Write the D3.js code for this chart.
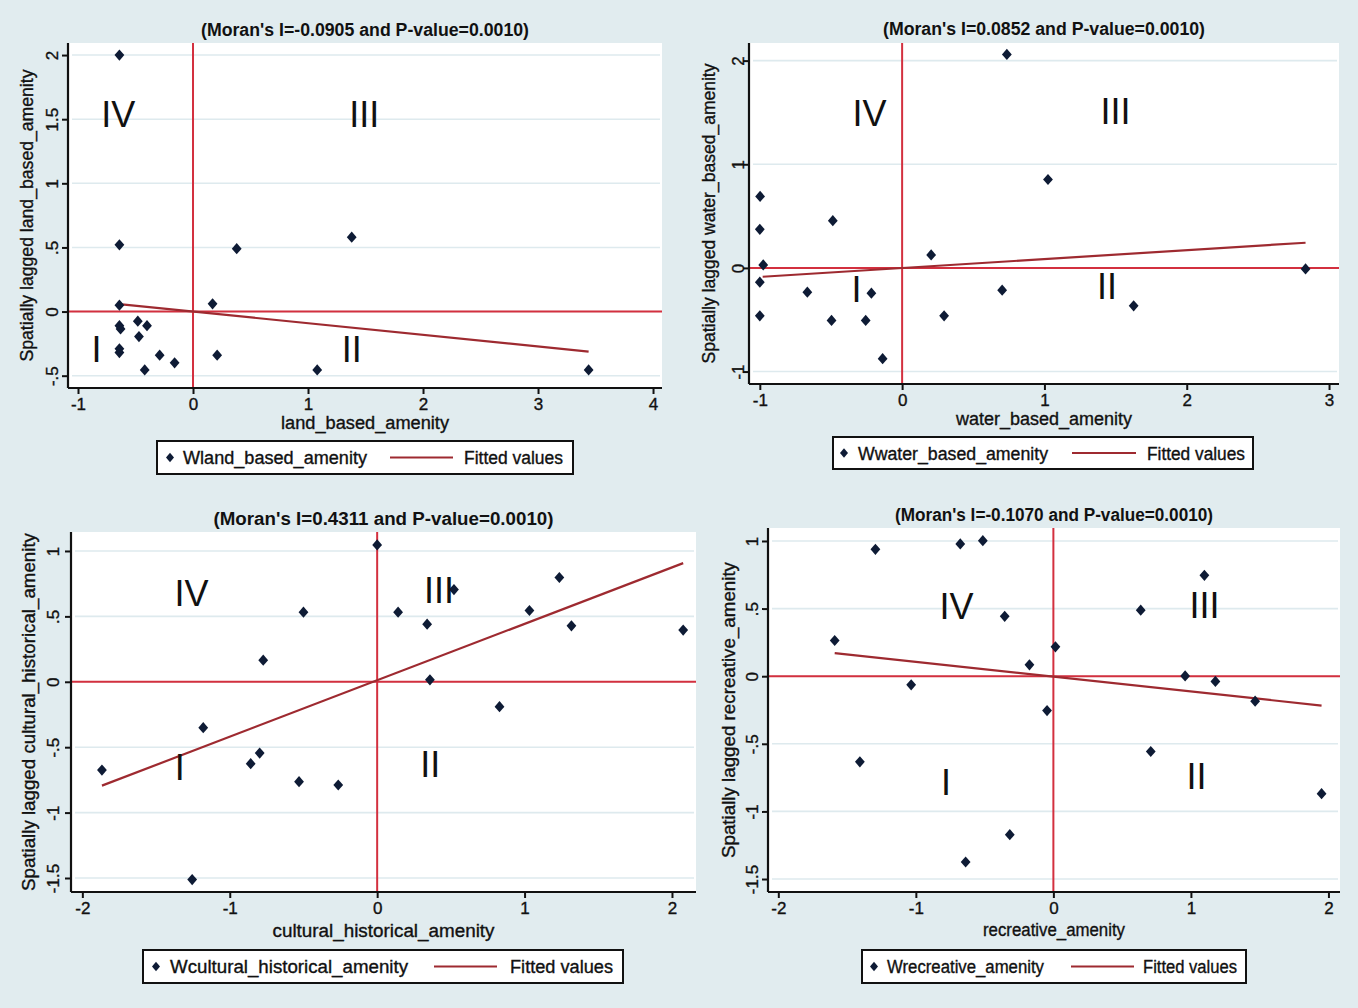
<!DOCTYPE html>
<html>
<head>
<meta charset="utf-8">
<script src="https://cdn.jsdelivr.net/npm/d3@7"></script>
<style>
  html, body { margin: 0; padding: 0; background: #e1ecef; }
  svg { display: block; }
  text { font-family: "Liberation Sans", Arial, sans-serif; fill: #111; }
  .heavy { stroke: #111; stroke-width: 0.35px; }
</style>
</head>
<body>
<svg id="chart" width="1358" height="1008"></svg>
<script>
// ---------- DATA ----------
// Panel 1: land-based amenity
const landX = [-0.64, -0.64, 0.38, 1.38, -0.64, 0.17, -0.64, -0.63, -0.48, -0.40, -0.47, -0.64, -0.64, -0.29, 0.21, -0.16, -0.42, 1.08, 3.44];
const landY = [2.00, 0.52, 0.49, 0.58, 0.05, 0.06, -0.11, -0.135, -0.075, -0.11, -0.195, -0.29, -0.32, -0.34, -0.34, -0.40, -0.455, -0.455, -0.455];
const landFitX = [-0.64, 3.44];
const landFitY = [0.058, -0.312];
const landYTicks = [-0.5, 0, 0.5, 1, 1.5, 2];
const landXTicks = [-1, 0, 1, 2, 3, 4];

// Panel 2: water-based amenity
const waterX = [0.736, 1.025, -0.998, -0.487, -1.0, -0.976, 0.204, -1.0, -0.666, -0.216, 0.703, -1.0, -0.496, -0.256, 0.295, 1.627, -0.137, 2.835];
const waterY = [2.06, 0.853, 0.69, 0.456, 0.372, 0.029, 0.125, -0.138, -0.234, -0.244, -0.215, -0.462, -0.507, -0.507, -0.462, -0.366, -0.876, -0.01];
const waterFitX = [-0.98, 2.835];
const waterFitY = [-0.085, 0.243];
const waterYTicks = [-1, 0, 1, 2];
const waterXTicks = [-1, 0, 1, 2, 3];

// Panel 3: cultural-historical amenity
const cultX = [0.0, 1.236, 0.521, -0.5, 0.142, 1.033, 0.339, 1.318, 2.076, -0.773, 0.358, 0.83, -1.18, -0.797, -0.858, -1.867, -0.53, -0.264, -1.255];
const cultY = [1.046, 0.797, 0.705, 0.532, 0.532, 0.545, 0.44, 0.428, 0.395, 0.165, 0.015, -0.19, -0.351, -0.545, -0.626, -0.675, -0.764, -0.789, -1.512];
const cultFitX = [-1.867, 2.076];
const cultFitY = [-0.794, 0.907];
const cultYTicks = [-1.5, -1, -0.5, 0, 0.5, 1];
const cultXTicks = [-2, -1, 0, 1, 2];

// Panel 4: recreative amenity
const recX = [-0.513, -0.677, -1.294, 1.098, 0.635, -0.354, -1.59, 0.015, -0.174, 0.958, 1.178, -1.034, 1.467, -0.046, 0.708, -1.407, 1.95, -0.317, -0.638];
const recY = [1.002, 0.978, 0.938, 0.746, 0.488, 0.443, 0.264, 0.217, 0.084, 0.002, -0.039, -0.064, -0.185, -0.254, -0.557, -0.633, -0.869, -1.172, -1.374];
const recFitX = [-1.59, 1.95];
const recFitY = [0.17, -0.217];
const recYTicks = [-1.5, -1, -0.5, 0, 0.5, 1];
const recXTicks = [-2, -1, 0, 1, 2];

const quadNames = ["IV", "III", "I", "II"];
const titles = [
  "(Moran's I=-0.0905 and P-value=0.0010)",
  "(Moran's I=0.0852 and P-value=0.0010)",
  "(Moran's I=0.4311 and P-value=0.0010)",
  "(Moran's I=-0.1070 and P-value=0.0010)"
];
const xTitles = ["land_based_amenity", "water_based_amenity", "cultural_historical_amenity", "recreative_amenity"];
const yTitles = ["Spatially lagged land_based_amenity", "Spatially lagged water_based_amenity",
                 "Spatially lagged cultural_historical_amenity", "Spatially lagged recreative_amenity"];
const legendNames = ["Wland_based_amenity", "Wwater_based_amenity", "Wcultural_historical_amenity", "Wrecreative_amenity"];
const fitLabel = "Fitted values";

// ---------- LAYOUT ----------
const panels = [
  { xs: landX, ys: landY, fx: landFitX, fy: landFitY, yt: landYTicks, xt: landXTicks,
    box: {l: 68, r: 662, t: 43, b: 388}, xd: [-1.087, 4.078], yd: [-0.596, 2.094],
    quad: [[-0.65, 1.54], [1.49, 1.54], [-0.84, -0.29], [1.38, -0.29]],
    titleY: 36, titleW: 328, xTitleY: 429, xTitleW: 168, yTitleX: 33, yTitleW: 292, yTickX: 53,
    leg: {l: 157, r: 573, t: 441, b: 474, dx: 170, tx: 183, tw: 184, l1: 390, l2: 453, fx: 464, fw: 99} },
  { xs: waterX, ys: waterY, fx: waterFitX, fy: waterFitY, yt: waterYTicks, xt: waterXTicks,
    box: {l: 749, r: 1339, t: 43, b: 384}, xd: [-1.076, 3.07], yd: [-1.12, 2.17],
    quad: [[-0.23, 1.49], [1.5, 1.51], [-0.32, -0.205], [1.44, -0.17]],
    titleY: 35, titleW: 322, xTitleY: 425, xTitleW: 176, yTitleX: 715, yTitleW: 300, yTickX: 739,
    leg: {l: 833, r: 1253, t: 437, b: 469, dx: 844, tx: 858, tw: 190, l1: 1072, l2: 1136, fx: 1147, fw: 98} },
  { xs: cultX, ys: cultY, fx: cultFitX, fy: cultFitY, yt: cultYTicks, xt: cultXTicks,
    box: {l: 71, r: 696, t: 532, b: 892}, xd: [-2.077, 2.163], yd: [-1.607, 1.145],
    quad: [[-1.26, 0.68], [0.42, 0.70], [-1.34, -0.65], [0.36, -0.63]],
    titleY: 525, titleW: 340, xTitleY: 937, xTitleW: 222, yTitleX: 35, yTitleW: 358, yTickX: 54,
    leg: {l: 143, r: 623, t: 950, b: 983, dx: 156, tx: 170, tw: 238, l1: 434, l2: 497, fx: 510, fw: 103} },
  { xs: recX, ys: recY, fx: recFitX, fy: recFitY, yt: recYTicks, xt: recXTicks,
    box: {l: 768, r: 1340, t: 528, b: 892}, xd: [-2.075, 2.084], yd: [-1.596, 1.096],
    quad: [[-0.705, 0.522], [1.098, 0.527], [-0.78, -0.783], [1.04, -0.741]],
    titleY: 521, titleW: 318, xTitleY: 936, xTitleW: 142, yTitleX: 735, yTitleW: 296, yTickX: 753,
    leg: {l: 862, r: 1246, t: 950, b: 983, dx: 874, tx: 887, tw: 157, l1: 1071, l2: 1134, fx: 1143, fw: 94} }
];

const COL_BG = "#e1ecef", COL_GRID = "#deeaee", COL_REF = "#d3303f", COL_FIT = "#9e2a30", COL_MK = "#0e1b35";
const fmt = v => { if (v === 0) return "0"; let s = String(v); return s.replace(/^(-?)0\./, "$1."); };
const diamond = "M0,-5.6L4.9,0L0,5.6L-4.9,0Z";

const svg = d3.select("#chart");
svg.append("rect").attr("width", 1358).attr("height", 1008).attr("fill", COL_BG);

panels.forEach((p, i) => {
  const b = p.box;
  const x = d3.scaleLinear().domain(p.xd).range([b.l, b.r]);
  const y = d3.scaleLinear().domain(p.yd).range([b.b, b.t]);
  const g = svg.append("g");

  // plot region
  g.append("rect").attr("x", b.l).attr("y", b.t).attr("width", b.r - b.l).attr("height", b.b - b.t).attr("fill", "#fff");

  // gridlines
  g.selectAll(".grid").data(p.yt).join("line")
    .attr("x1", b.l + 4).attr("x2", b.r - 2)
    .attr("y1", d => y(d)).attr("y2", d => y(d))
    .attr("stroke", COL_GRID).attr("stroke-width", 1.6);

  // reference lines
  g.append("line").attr("x1", x(0)).attr("x2", x(0)).attr("y1", b.t).attr("y2", b.b)
    .attr("stroke", COL_REF).attr("stroke-width", 2);
  g.append("line").attr("x1", b.l).attr("x2", b.r).attr("y1", y(0)).attr("y2", y(0))
    .attr("stroke", COL_REF).attr("stroke-width", 2);

  // fitted line
  const fit = p.fx.map((v, k) => [v, p.fy[k]]);
  g.append("path").datum(fit)
    .attr("d", d3.line().x(d => x(d[0])).y(d => y(d[1])))
    .attr("fill", "none").attr("stroke", COL_FIT).attr("stroke-width", 2.2);

  // markers
  const pts = p.xs.map((v, k) => [v, p.ys[k]]);
  g.selectAll(".pt").data(pts).join("path")
    .attr("d", diamond)
    .attr("transform", d => `translate(${x(d[0])},${y(d[1])})`)
    .attr("fill", COL_MK);

  // quadrant labels
  g.selectAll(".quad").data(p.quad).join("text")
    .attr("x", d => x(d[0])).attr("y", d => y(d[1]) + 13)
    .attr("text-anchor", "middle").attr("font-size", 36)
    .text((d, k) => quadNames[k]);

  // axes
  const xAxis = d3.axisBottom(x).tickValues(p.xt).tickFormat(fmt).tickSize(6).tickPadding(4);
  const gx = g.append("g").attr("transform", `translate(0,${b.b})`).call(xAxis);
  gx.select(".domain").attr("stroke", "#111").attr("stroke-width", 2.2)
    .attr("d", `M${b.l},0H${b.r}`);
  gx.selectAll(".tick line").attr("stroke", "#111").attr("stroke-width", 2);
  gx.selectAll(".tick text").attr("font-size", 17).attr("fill", "#111").attr("class", "heavy")
    .attr("font-family", "Liberation Sans, Arial, sans-serif");

  const yAxis = d3.axisLeft(y).tickValues(p.yt).tickFormat(fmt).tickSize(6).tickPadding(4);
  const gy = g.append("g").attr("transform", `translate(${b.l},0)`).call(yAxis);
  gy.select(".domain").attr("stroke", "#111").attr("stroke-width", 2.2)
    .attr("d", `M0,${b.t}V${b.b}`);
  gy.selectAll(".tick line").attr("stroke", "#111").attr("stroke-width", 2);
  gy.selectAll(".tick text").attr("font-size", 17).attr("fill", "#111").attr("class", "heavy")
    .attr("font-family", "Liberation Sans, Arial, sans-serif")
    .attr("text-anchor", "middle").attr("dy", null)
    .attr("x", null)
    .attr("transform", `translate(${p.yTickX - b.l + 5},0) rotate(-90)`);

  // title
  g.append("text").attr("x", (b.l + b.r) / 2)
    .attr("y", p.titleY).attr("text-anchor", "middle")
    .attr("font-size", 18).attr("font-weight", "bold")
    .attr("textLength", p.titleW).attr("lengthAdjust", "spacingAndGlyphs")
    .text(titles[i]);

  // axis titles
  g.append("text").attr("x", (b.l + b.r) / 2).attr("y", p.xTitleY)
    .attr("text-anchor", "middle").attr("font-size", 18).attr("class", "heavy")
    .attr("textLength", p.xTitleW).attr("lengthAdjust", "spacingAndGlyphs")
    .text(xTitles[i]);
  g.append("text")
    .attr("transform", `translate(${p.yTitleX},${(b.t + b.b) / 2}) rotate(-90)`)
    .attr("text-anchor", "middle").attr("font-size", 18).attr("class", "heavy")
    .attr("textLength", p.yTitleW).attr("lengthAdjust", "spacingAndGlyphs")
    .text(yTitles[i]);

  // legend
  const L = p.leg, cy = (L.t + L.b) / 2;
  g.append("rect").attr("x", L.l).attr("y", L.t).attr("width", L.r - L.l).attr("height", L.b - L.t)
    .attr("fill", "#fff").attr("stroke", "#111").attr("stroke-width", 2);
  g.append("path").attr("d", "M0,-4.8L4,0L0,4.8L-4,0Z")
    .attr("transform", `translate(${L.dx},${cy})`).attr("fill", COL_MK);
  g.append("text").attr("x", L.tx).attr("y", cy + 6.5).attr("font-size", 18).attr("class", "heavy")
    .attr("textLength", L.tw).attr("lengthAdjust", "spacingAndGlyphs").text(legendNames[i]);
  g.append("line").attr("x1", L.l1).attr("x2", L.l2).attr("y1", cy).attr("y2", cy)
    .attr("stroke", COL_FIT).attr("stroke-width", 2);
  g.append("text").attr("x", L.fx).attr("y", cy + 6.5).attr("font-size", 18).attr("class", "heavy")
    .attr("textLength", L.fw).attr("lengthAdjust", "spacingAndGlyphs").text(fitLabel);
});
</script>
</body>
</html>
